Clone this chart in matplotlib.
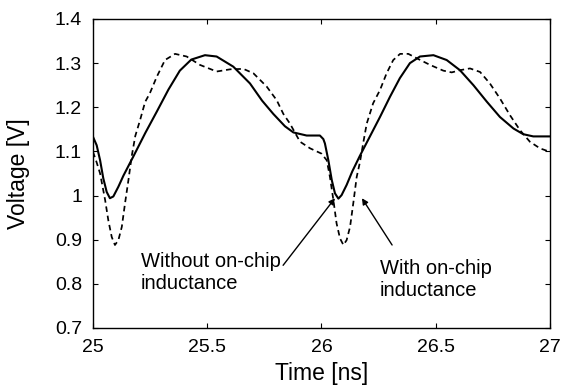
import matplotlib
matplotlib.use("Agg")
import matplotlib.pyplot as plt

# Solid: without on-chip inductance
t_without = [25.0, 25.016, 25.031, 25.045, 25.06, 25.074, 25.089, 25.111, 25.133, 25.176,
             25.229, 25.279, 25.33, 25.38, 25.43, 25.49, 25.541, 25.614, 25.687, 25.74,
             25.789, 25.84, 25.877, 25.935, 25.993, 26.008, 26.015, 26.03, 26.045, 26.059,
             26.074, 26.088, 26.11, 26.135, 26.168, 26.226, 26.256, 26.30, 26.343, 26.387,
             26.431, 26.49, 26.548, 26.606, 26.665, 26.723, 26.781, 26.84, 26.883, 26.927,
             27.0]
v_without = [1.133, 1.114, 1.08, 1.039, 1.008, 0.994, 0.998, 1.02, 1.045, 1.088,
             1.142, 1.19, 1.24, 1.283, 1.308, 1.318, 1.315, 1.292, 1.254, 1.215,
             1.185, 1.157, 1.143, 1.136, 1.136, 1.128, 1.118, 1.08, 1.035, 1.005,
             0.993, 1.001, 1.024, 1.055, 1.09, 1.148, 1.178, 1.224, 1.266, 1.30,
             1.315, 1.318, 1.307, 1.284, 1.25, 1.213, 1.178, 1.152, 1.139, 1.134,
             1.134]

# Dashed: with on-chip inductance
t_with = [25.0, 25.016, 25.031, 25.053, 25.067, 25.082, 25.096, 25.111, 25.126, 25.14,
          25.155, 25.169, 25.185, 25.206, 25.228, 25.249, 25.279, 25.315, 25.359, 25.41,
          25.468, 25.541, 25.60, 25.658, 25.702, 25.76, 25.804, 25.833, 25.862, 25.906,
          25.95, 26.0, 26.023, 26.037, 26.052, 26.066, 26.081, 26.096, 26.11, 26.125,
          26.139, 26.154, 26.168, 26.183, 26.198, 26.226, 26.256, 26.285, 26.314, 26.344,
          26.38, 26.417, 26.475, 26.533, 26.57, 26.606, 26.65, 26.694, 26.737, 26.781,
          26.825, 26.869, 26.912, 26.956, 27.0]
v_with = [1.099, 1.075, 1.05, 0.99, 0.944, 0.906, 0.888, 0.899, 0.929, 0.982,
          1.035, 1.088, 1.135, 1.171, 1.212, 1.232, 1.269, 1.307, 1.321, 1.315,
          1.296, 1.281, 1.286, 1.287, 1.277, 1.247, 1.216, 1.185, 1.163, 1.122,
          1.107, 1.095, 1.08, 1.042, 0.99, 0.937, 0.903, 0.888, 0.899, 0.929,
          0.982, 1.042, 1.075, 1.12, 1.163, 1.209, 1.239, 1.277, 1.307, 1.321,
          1.321, 1.311, 1.296, 1.283, 1.279, 1.284, 1.288, 1.28, 1.254, 1.22,
          1.182, 1.148, 1.122, 1.107, 1.099]

xticks = [25, 25.5, 26, 26.5, 27]
xticklabels = ["25", "25.5", "26", "26.5", "27"]
yticks = [0.7, 0.8, 0.9, 1.0, 1.1, 1.2, 1.3, 1.4]
yticklabels = ["0.7", "0.8", "0.9", "1", "1.1", "1.2", "1.3", "1.4"]

plt.rcParams['font.family'] = ['Liberation Sans', 'DejaVu Sans']

fig = plt.figure(figsize=(5.62, 3.86), dpi=100)
ax = fig.add_axes([0.1655, 0.1503, 0.8131, 0.8005])

ax.plot(t_without, v_without, color='black', lw=1.5,
        solid_joinstyle='round', solid_capstyle='round')
ax.plot(t_with, v_with, color='black', lw=1.25, linestyle=(0, (3.2, 2.2)))

ax.set_xlim(25, 27)
ax.set_ylim(0.7, 1.4)
ax.set_xticks(xticks)
ax.set_xticklabels(xticklabels)
ax.set_yticks(yticks)
ax.set_yticklabels(yticklabels)
ax.tick_params(direction='in', top=True, right=True, length=3.5, width=0.8,
               labelsize=14, pad=8)
for s in ax.spines.values():
    s.set_linewidth(1.0)

ax.set_xlabel("Time [ns]", fontsize=16.5, labelpad=4)
ax.set_ylabel("Voltage [V]", fontsize=16.5, labelpad=18)

ax.text(25.21, 0.872, "Without on-chip\ninductance", fontsize=14.5, va='top', ha='left')
ax.text(26.256, 0.856, "With on-chip\ninductance", fontsize=14.5, va='top', ha='left')

ax.annotate("", xy=(26.059, 0.994), xytext=(25.832, 0.842),
            arrowprops=dict(arrowstyle='-|>', lw=1.0, color='black',
                            mutation_scale=9, shrinkA=0, shrinkB=0))
ax.annotate("", xy=(26.177, 0.994), xytext=(26.309, 0.888),
            arrowprops=dict(arrowstyle='-|>', lw=1.0, color='black',
                            mutation_scale=9, shrinkA=0, shrinkB=0))

fig.savefig("out.png", dpi=100)
